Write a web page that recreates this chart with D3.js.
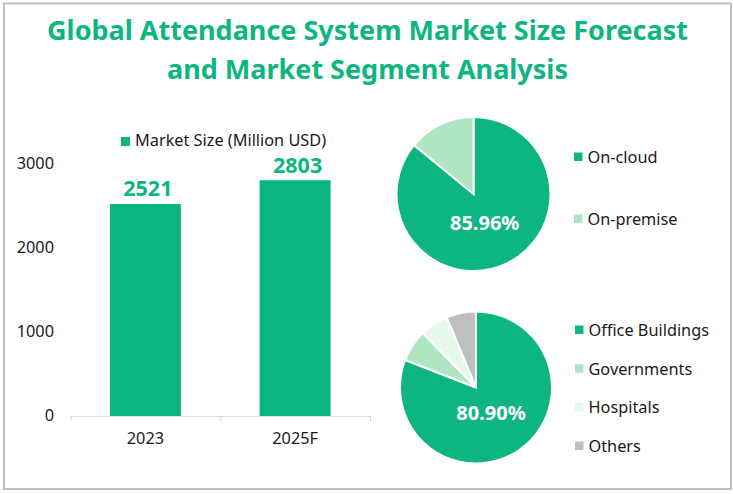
<!DOCTYPE html>
<html>
<head>
<meta charset="utf-8">
<script src="https://cdn.jsdelivr.net/npm/d3@7"></script>
<style>
    html, body { margin: 0; padding: 0; background: #fff; }
    svg { display: block; }
    text { font-family: "Noto Sans", "Open Sans", sans-serif; }
</style>
</head>
<body>
<svg id="chart" width="733" height="494"></svg>
<script>
const titleLines = ['Global Attendance System Market Size Forecast', 'and Market Segment Analysis'];

const years = ['2023', '2025F'];
const marketSize = [2521, 2803];
const sizeTicks = [0, 1000, 2000, 3000];
const sizeLegend = 'Market Size (Million USD)';

const deployLabels = ['On-cloud', 'On-premise'];
const deployShares = [85.96, 14.04];
const appLabels = ['Office Buildings', 'Governments', 'Hospitals', 'Others'];
const appShares = [80.90, 6.8, 6.0, 6.3];

const green = '#0DB581';
const sliceColors = [green, '#AFE5C3', '#E6F7EC', '#BFBFBF'];
const textColor = '#1a1a1a';
const labelSize = 16.3;

const svg = d3.select('#chart');

// frame
svg.append('rect')
    .attr('x', 4).attr('y', 3.5)
    .attr('width', 727).attr('height', 485.5)
    .attr('fill', '#fff')
    .attr('stroke', '#BFBFBF')
    .attr('stroke-width', 2);

// title
svg.selectAll('.title')
    .data(titleLines)
    .enter()
    .append('text')
    .attr('class', 'title')
    .attr('x', 367.5)
    .attr('y', (d, i) => 40 + i * 39)
    .attr('text-anchor', 'middle')
    .attr('font-size', 27)
    .attr('font-weight', 700)
    .attr('fill', green)
    .text(d => d);

// bar chart
const x = d3.scaleBand()
    .domain(years)
    .range([70.5, 370])
    .paddingInner(0.526)
    .paddingOuter(0.263);

const y = d3.scaleLinear()
    .domain([0, 3000])
    .range([416, 163.7]);

const xAxis = svg.append('g')
    .attr('transform', `translate(0, ${y(0)})`)
    .call(d3.axisBottom(x).tickSize(0).tickPadding(0));
xAxis.select('.domain').remove();
xAxis.selectAll('text')
    .attr('y', 28)
    .attr('dy', 0)
    .attr('font-size', labelSize)
    .attr('font-family', '"Noto Sans", sans-serif')
    .attr('fill', textColor);

// axis line with ticks at the band edges
const edgeScale = d3.scaleLinear().domain([0, years.length]).range(x.range());
const axisLine = svg.append('g')
    .attr('transform', `translate(0, ${y(0)})`)
    .call(d3.axisBottom(edgeScale).ticks(years.length).tickSize(5).tickFormat(''));
axisLine.select('.domain').attr('stroke', '#D9D9D9').attr('d', `M${x.range()[0]},0.5H${x.range()[1]}`);
axisLine.selectAll('line').attr('stroke', '#D9D9D9');

const yAxis = svg.append('g')
    .attr('transform', 'translate(54, 0)')
    .call(d3.axisLeft(y).tickValues(sizeTicks).tickSize(0).tickPadding(0).tickFormat(d3.format('d')));
yAxis.select('.domain').remove();
yAxis.selectAll('text')
    .attr('dy', '0.3em')
    .attr('font-size', labelSize)
    .attr('font-family', '"Noto Sans", sans-serif')
    .attr('fill', textColor);

svg.selectAll('.bar')
    .data(marketSize)
    .enter()
    .append('rect')
    .attr('class', 'bar')
    .attr('x', (d, i) => x(years[i]))
    .attr('y', d => y(d))
    .attr('width', x.bandwidth())
    .attr('height', d => y(0) - y(d))
    .attr('fill', green);

svg.selectAll('.bar-label')
    .data(marketSize)
    .enter()
    .append('text')
    .attr('class', 'bar-label')
    .attr('x', (d, i) => x(years[i]) + x.bandwidth() / 2 + 2.5)
    .attr('y', d => y(d) - 7.5)
    .attr('text-anchor', 'middle')
    .attr('font-size', 21.5)
    .attr('font-weight', 700)
    .attr('fill', green)
    .text(d => d);

svg.append('rect')
    .attr('x', 121).attr('y', 137)
    .attr('width', 9).attr('height', 9)
    .attr('fill', green);
svg.append('text')
    .attr('x', 135).attr('y', 146)
    .attr('font-size', labelSize)
    .attr('fill', textColor)
    .text(sizeLegend);

// pies
const drawPie = (labels, values, cx, cy, r, labelR, legendX, legendYs) => {
    const pie = d3.pie().sort(null)(values);
    const arc = d3.arc().innerRadius(0).outerRadius(r);
    const labelArc = d3.arc().innerRadius(labelR).outerRadius(labelR);

    const g = svg.append('g').attr('transform', `translate(${cx}, ${cy})`);

    g.selectAll('path')
        .data(pie)
        .enter()
        .append('path')
        .attr('d', arc)
        .attr('fill', (d, i) => sliceColors[i])
        .attr('stroke', '#fff')
        .attr('stroke-width', 2);

    g.append('text')
        .attr('transform', `translate(${labelArc.centroid(pie[0])})`)
        .attr('text-anchor', 'middle')
        .attr('dx', -2.5)
        .attr('dy', '0.36em')
        .attr('font-size', 20)
        .attr('font-weight', 700)
        .attr('fill', '#fff')
        .text(d3.format('.2f')(values[0]) + '%');

    const legendY = d3.scalePoint().domain(labels).range(legendYs);

    const item = svg.selectAll(null)
        .data(labels)
        .enter()
        .append('g')
        .attr('transform', d => `translate(${legendX}, ${legendY(d)})`);

    item.append('rect')
        .attr('y', -4.5)
        .attr('width', 8.5).attr('height', 8.5)
        .attr('fill', (d, i) => sliceColors[i]);

    item.append('text')
        .attr('x', 13.5)
        .attr('dy', '0.36em')
        .attr('font-size', labelSize)
        .attr('fill', textColor)
        .text(d => d);
};

drawPie(deployLabels, deployShares, 473.5, 194, 77, 32, 574, [157, 219]);
drawPie(appLabels, appShares, 476, 387.5, 76, 31, 575, [330, 446]);
</script>
</body>
</html>
